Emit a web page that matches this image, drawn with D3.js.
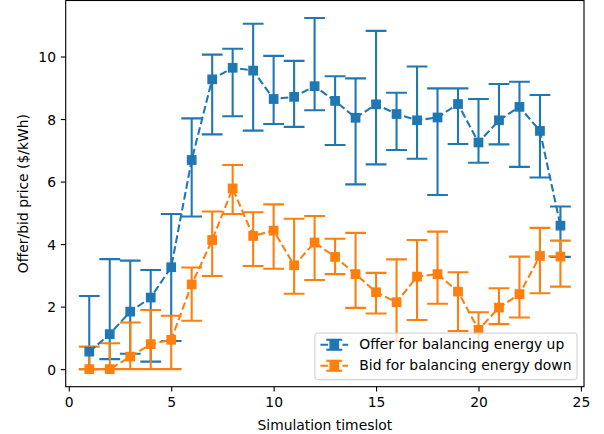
<!DOCTYPE html>
<html>
<head>
<meta charset="utf-8">
<script src="https://cdn.jsdelivr.net/npm/d3@7"></script>
<style>
  html, body { margin: 0; padding: 0; background: #fff; }
  svg { display: block; }
  text { font-family: "DejaVu Sans", sans-serif; fill: #000; }
</style>
</head>
<body>
<svg id="chart" width="604" height="434"></svg>
<script>
// ---- data ----
const timeslots = [1,2,3,4,5,6,7,8,9,10,11,12,13,14,15,16,17,18,19,20,21,22,23,24];
const offerUp     = [0.56,1.12,1.84,2.29,3.26,6.69,9.27,9.64,9.55,8.64,8.71,9.05,8.58,8.04,8.47,8.16,7.96,8.05,8.48,7.25,7.96,8.39,7.62,4.59];
const offerUpLow  = [0.00,0.32,0.49,0.24,0.90,4.88,7.51,8.09,7.63,7.84,7.75,8.28,7.17,5.91,6.55,7.01,6.73,5.57,7.20,6.60,7.19,6.47,6.13,3.59];
const offerUpHigh = [2.34,3.52,3.47,3.17,4.96,8.02,10.06,10.25,11.05,10.02,9.86,11.23,9.37,9.30,10.82,8.84,9.68,8.98,8.98,8.64,9.12,9.19,8.77,5.20];
const bidDown     = [0.00,0.00,0.40,0.80,0.94,2.71,4.13,5.78,4.26,4.43,3.32,4.05,3.59,3.04,2.46,2.14,2.96,3.04,2.48,1.26,1.97,2.40,3.62,3.60];
const bidDownLow  = [0.00,0.00,0.00,0.00,0.00,1.55,2.98,4.96,3.30,3.21,2.41,2.85,3.04,1.96,1.78,0.90,1.57,2.09,1.22,0.70,1.44,1.65,2.43,2.64];
const bidDownHigh = [0.72,0.83,1.49,1.89,1.71,3.25,5.04,6.53,5.02,5.27,4.81,4.90,4.17,4.36,3.08,3.51,4.13,4.40,3.10,1.82,2.59,3.60,4.52,4.11];
const seriesNames = ["Offer for balancing energy up", "Bid for balancing energy down"];
const seriesColors = ["#1f77b4", "#ff7f0e"];
const xTicks = [0,5,10,15,20,25];
const yTicks = [0,2,4,6,8,10];
const xLabel = "Simulation timeslot";
const yLabel = "Offer/bid price ($/kWh)";

// ---- layout ----
const W = 604, H = 434;
const m = { left: 65.7, right: 20, top: 0.5, bottom: 47.3 };
const iw = W - m.left - m.right, ih = H - m.top - m.bottom;
const fs = 13.89;
const pt = 100 / 72;

const series = [
  { name: seriesNames[0], color: seriesColors[0], v: offerUp, lo: offerUpLow, hi: offerUpHigh },
  { name: seriesNames[1], color: seriesColors[1], v: bidDown, lo: bidDownLow, hi: bidDownHigh }
];

const xmin = d3.min(timeslots), xmax = d3.max(timeslots);
const xm = (xmax - xmin) * 0.05;
const allLo = d3.min(series.flatMap(s => s.lo)), allHi = d3.max(series.flatMap(s => s.hi));
const ym = (allHi - allLo) * 0.05;

const x = d3.scaleLinear().domain([xmin - xm, xmax + xm]).range([0, iw]);
const y = d3.scaleLinear().domain([allLo - ym, allHi + ym]).range([ih, 0]);

const svg = d3.select("#chart");
const g = svg.append("g").attr("transform", `translate(${m.left},${m.top})`);

// clip
svg.append("defs").append("clipPath").attr("id", "clip")
  .append("rect").attr("width", iw).attr("height", ih);
const plot = g.append("g").attr("clip-path", "url(#clip)");

const lw = 1.5 * pt;
const cap = 10.4;
const ms = 6 * pt;

// error bars first
series.forEach(s => {
  const eg = plot.append("g").attr("stroke", s.color).attr("stroke-width", lw).attr("fill", "none");
  timeslots.forEach((t, i) => {
    eg.append("line").attr("x1", x(t)).attr("x2", x(t)).attr("y1", y(s.lo[i])).attr("y2", y(s.hi[i]));
    eg.append("line").attr("x1", x(t) - cap).attr("x2", x(t) + cap).attr("y1", y(s.lo[i])).attr("y2", y(s.lo[i]));
    eg.append("line").attr("x1", x(t) - cap).attr("x2", x(t) + cap).attr("y1", y(s.hi[i])).attr("y2", y(s.hi[i]));
  });
});

// data lines + markers
const line = d3.line().x((d, i) => x(timeslots[i])).y(d => y(d));
series.forEach(s => {
  plot.append("path").datum(s.v).attr("d", line)
    .attr("fill", "none").attr("stroke", s.color).attr("stroke-width", lw)
    .attr("stroke-dasharray", `${3.7 * 1.5 * pt},${1.6 * 1.5 * pt}`);
  plot.append("g").selectAll("rect").data(s.v).join("rect")
    .attr("x", (d, i) => x(timeslots[i]) - ms / 2)
    .attr("y", d => y(d) - ms / 2)
    .attr("width", ms).attr("height", ms)
    .attr("fill", s.color).attr("stroke", s.color).attr("stroke-width", pt);
});

// axes
const tickLen = 3.5 * pt, tickPad = 3.5 * pt;
const xAxis = d3.axisBottom(x).tickValues(xTicks).tickFormat(d3.format("d"))
  .tickSizeInner(tickLen).tickSizeOuter(0).tickPadding(tickPad);
const yAxis = d3.axisLeft(y).tickValues(yTicks).tickFormat(d3.format("d"))
  .tickSizeInner(tickLen).tickSizeOuter(0).tickPadding(tickPad);

const gx = g.append("g").attr("transform", `translate(0,${ih})`).call(xAxis);
const gy = g.append("g").call(yAxis);
[gx, gy].forEach(a => {
  a.select(".domain").remove();
  a.selectAll(".tick line").attr("stroke", "#000").attr("stroke-width", 0.8 * pt);
  a.selectAll(".tick text").attr("font-size", fs).attr("font-family", "DejaVu Sans").attr("fill", "#000");
});
gx.selectAll(".tick text").attr("dy", null).attr("y", tickLen + tickPad + 10.1);
gy.selectAll(".tick text").attr("dy", "0.36em");

// frame
g.append("rect").attr("width", iw).attr("height", ih)
  .attr("fill", "none").attr("stroke", "#000").attr("stroke-width", 0.8 * pt);

// labels
g.append("text").attr("x", iw / 2).attr("y", 429.6 - m.top)
  .attr("text-anchor", "middle").attr("font-size", fs).text(xLabel);
svg.append("text")
  .attr("transform", `translate(28,${m.top + ih / 2}) rotate(-90)`)
  .attr("text-anchor", "middle").attr("font-size", fs).text(yLabel);

// legend
const bp = 0.4 * fs, hl = 2.0 * fs, htp = 0.8 * fs, bap = 0.5 * fs;
const rowGap = 21;
const leg = g.append("g");
const legBox = leg.append("rect");
const texts = series.map((s, i) =>
  leg.append("text").attr("font-size", fs).text(s.name));
const tw = d3.max(texts, t => t.node().getComputedTextLength());
const lwid = bp + hl + htp + tw + bp;
const lhei = 46.7;
const lx = iw - bap - lwid;
const ly = ih - bap - lhei;
legBox.attr("x", lx).attr("y", ly).attr("width", lwid).attr("height", lhei)
  .attr("rx", 2.8).attr("ry", 2.8)
  .attr("fill", "#fff").attr("fill-opacity", 0.8)
  .attr("stroke", "#cccccc").attr("stroke-width", 1);
series.forEach((s, i) => {
  const base = ly + 16.1 + i * rowGap;
  const cy = base - 4.4;
  const hx0 = lx + bp, hx1 = hx0 + hl, hcx = (hx0 + hx1) / 2;
  texts[i].attr("x", hx1 + htp).attr("y", base);
  const hg = leg.append("g").attr("stroke", s.color).attr("stroke-width", lw);
  hg.append("line").attr("x1", hx0).attr("x2", hx1).attr("y1", cy).attr("y2", cy)
    .attr("stroke-dasharray", `${3.7 * 1.5 * pt},${1.6 * 1.5 * pt}`);
  hg.append("line").attr("x1", hcx).attr("x2", hcx).attr("y1", cy - 5).attr("y2", cy + 5);
  hg.append("line").attr("x1", hcx - 8).attr("x2", hcx + 8).attr("y1", cy - 5).attr("y2", cy - 5);
  hg.append("line").attr("x1", hcx - 8).attr("x2", hcx + 8).attr("y1", cy + 5).attr("y2", cy + 5);
  leg.append("rect").attr("x", hcx - ms / 2).attr("y", cy - ms / 2).attr("width", ms).attr("height", ms)
    .attr("fill", s.color).attr("stroke", s.color).attr("stroke-width", pt);
});
</script>
</body>
</html>
